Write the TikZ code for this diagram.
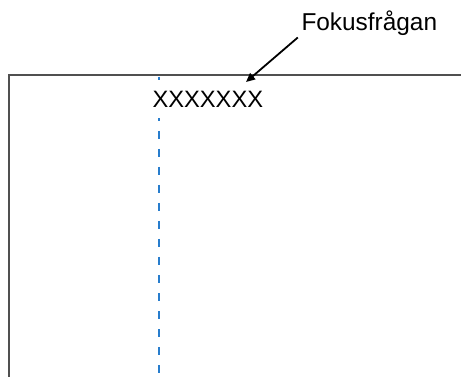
\documentclass[tikz,border=0pt]{standalone}
\usepackage{fontspec}
\setmainfont{Liberation Sans}
\usetikzlibrary{arrows.meta}
\definecolor{framegray}{RGB}{80,80,80}
\definecolor{guideblue}{RGB}{40,125,205}
\tikzset{
  frameline/.style={draw=framegray, line width=1.3pt},
  guideline/.style={draw=guideblue, line width=2pt, dash pattern=on 8pt off 10pt, dash phase=16pt},
  labeltext/.style={inner sep=0pt, text=black},
  pointer/.style={draw=black, line width=1.8pt, -{Triangle[length=9pt,width=8pt]}}
}
\begin{document}
\begin{tikzpicture}[x=1pt,y=-1pt]
\useasboundingbox (0,0) rectangle (461,377);
\fill[white] (0,0) rectangle (461,377);
% frame
\coordinate (fTR) at (462,75);
\coordinate (fTL) at (9,75);
\coordinate (fBL) at (9,378);
\draw[frameline] (fTR) -- (fTL) -- (fBL);
% dashed guide
\coordinate (gTop) at (159,75);
\coordinate (gBot) at (159,378);
\draw[guideline] (gTop) -- (gBot);
% focus question placeholder
\node[labeltext, font=\fontsize{23.7}{28}\selectfont, anchor=base west, fill=white, inner ysep=11pt] (xq) at (152.3,107.3) {XXXXXXX};
% label
\node[labeltext, font=\fontsize{24.4}{29}\selectfont, anchor=base west] (fq) at (301.3,30.5) {Fokusfrågan};
\coordinate (tip) at (246,82);
\draw[pointer] ([xshift=-3.5pt,yshift=-7pt]fq.base west) -- (tip);
\end{tikzpicture}
\end{document}
